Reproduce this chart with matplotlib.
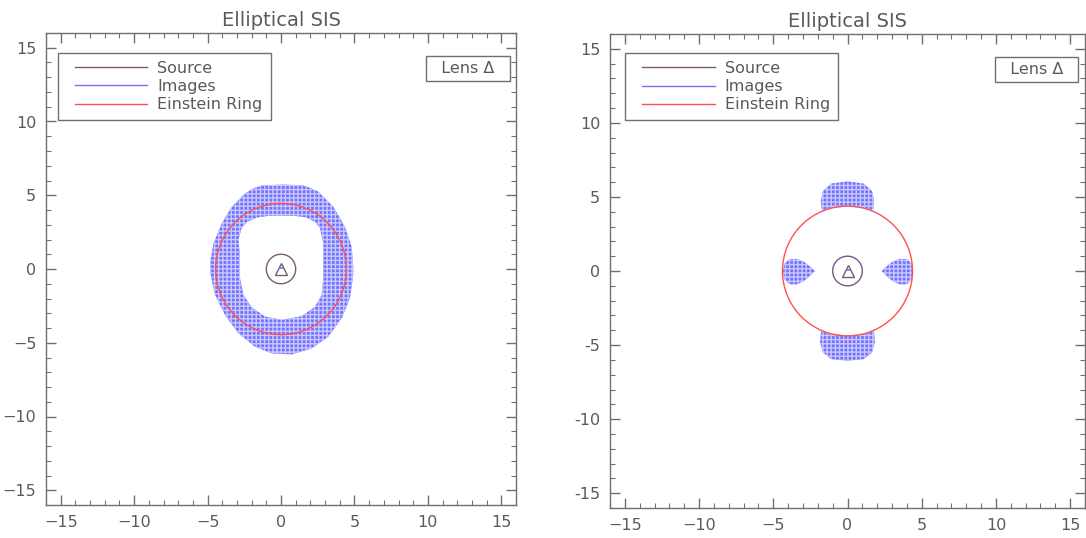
import numpy as np
import matplotlib
matplotlib.use('Agg')
import matplotlib.pyplot as plt
from matplotlib.path import Path
from matplotlib.patches import PathPatch, Circle
from matplotlib.lines import Line2D
from matplotlib.legend_handler import HandlerLine2D
from matplotlib.ticker import MultipleLocator, FuncFormatter

# --- data ---
source_xy = (0.0, 0.0)
source_r = 1.0
einstein_r_left = 4.45
einstein_r_right = 4.38

# left panel: ring-shaped image (outer and inner boundary)
ring_outer = [(0.2, 5.72), (-1.2, 5.68), (-1.85, 5.48), (-2.45, 5.13), (-3.35, 4.22),
              (-4.03, 3.1), (-4.6, 1.74), (-4.83, 0.39), (-4.83, -0.18), (-4.49, -1.76),
              (-3.81, -3.12), (-2.9, -4.36), (-1.77, -5.27), (-0.63, -5.72), (0.73, -5.79),
              (2.09, -5.38), (3.22, -4.59), (4.13, -3.34), (4.69, -1.99), (4.92, -0.41),
              (4.92, 0.16), (4.81, 1.51), (4.35, 2.87), (3.56, 4.22), (2.54, 5.24),
              (2.0, 5.5), (1.4, 5.68)]
ring_inner = [(0, 3.62), (0.95, 3.6), (1.7, 3.5), (2.3, 3.2), (2.65, 2.8), (2.88, 1.74),
              (2.88, 0.39), (2.88, -0.63), (2.77, -1.76), (2.31, -2.56), (1.41, -3.2),
              (0.05, -3.45), (-1.09, -3.22), (-2.0, -2.6), (-2.56, -1.76), (-2.79, -0.63),
              (-2.79, 0.83), (-2.9, 1.97), (-2.67, 2.8), (-2.3, 3.2), (-1.6, 3.5), (-0.86, 3.6)]

# right panel: four separate images
img_top = [(-1.72, 4.1), (-1.8, 4.7), (-1.65, 5.4), (-1.1, 5.9), (0, 6.05), (1.1, 5.9),
           (1.65, 5.4), (1.8, 4.7), (1.72, 4.1), (1.2, 4.25), (0, 4.35), (-1.2, 4.25)]
img_bottom = [(-1.78, -4.05), (-1.85, -4.8), (-1.65, -5.5), (-1.1, -5.95), (0, -6.05),
              (1.1, -5.95), (1.65, -5.5), (1.85, -4.8), (1.78, -4.05), (1.2, -4.25),
              (0, -4.35), (-1.2, -4.25)]
img_left = [(-4.35, 0.0), (-4.25, 0.5), (-3.9, 0.8), (-3.4, 0.82), (-2.9, 0.6), (-2.5, 0.28),
            (-2.2, 0.0), (-2.5, -0.3), (-2.9, -0.65), (-3.4, -0.9), (-3.9, -0.9), (-4.25, -0.55)]
img_right = [(4.4, 0.0), (4.35, 0.5), (4.0, 0.8), (3.5, 0.82), (3.0, 0.6), (2.6, 0.28),
             (2.3, 0.0), (2.6, -0.3), (3.0, -0.65), (3.5, -0.9), (4.0, -0.9), (4.35, -0.5)]

labels = ['Source', 'Images', 'Einstein Ring']
title = 'Elliptical SIS'
lens_label = '  Lens \u0394  '

GREY = '#5a5a5a'
SRC_C = '#7a5a7a'
IMG_C = '#7272ff'
RING_C = '#ff5050'
HATCH_C = '#c8c8ff'

plt.rcParams['font.family'] = 'DejaVu Sans'
plt.rcParams['hatch.linewidth'] = 1.0

fig = plt.figure(figsize=(10.86, 5.38), dpi=100)
W, H = 1086, 538
ax_l = fig.add_axes([46 / W, (H - 505) / H, 470 / W, 472 / H])
ax_r = fig.add_axes([610 / W, (H - 508) / H, 475 / W, 474 / H])


class PaddedLine(HandlerLine2D):
    # legend line that starts a bit right of the frame edge
    def create_artists(self, legend, orig_handle, xdescent, ydescent, width, height,
                       fontsize, trans):
        pad = 0.11 * width
        return super().create_artists(legend, orig_handle, xdescent - pad, ydescent,
                                      width - pad, height, fontsize, trans)


def image_patch(verts_list):
    codes = []
    allv = []
    for v in verts_list:
        codes += [Path.MOVETO] + [Path.LINETO] * (len(v) - 1) + [Path.CLOSEPOLY]
        allv += list(v) + [v[0]]
    return PathPatch(Path(allv, codes), facecolor=IMG_C, edgecolor=HATCH_C,
                     linewidth=0, hatch='++++', zorder=2)


def style(ax, hyphen_y=False):
    ax.set_xlim(-16, 16)
    ax.set_ylim(-16, 16)
    for s in ax.spines.values():
        s.set_color('#707070')
        s.set_linewidth(1.0)
    for a in (ax.xaxis, ax.yaxis):
        a.set_major_locator(MultipleLocator(5))
        a.set_minor_locator(MultipleLocator(1))
    ax.tick_params(which='both', direction='in', top=True, right=True, color='#707070',
                   labelcolor=GREY, labelsize=11.5)
    ax.tick_params(which='major', length=7, width=1.0, pad=7)
    ax.tick_params(which='minor', length=3.5, width=0.8)
    if hyphen_y:
        ax.yaxis.set_major_formatter(FuncFormatter(lambda v, p: '%d' % v))
    ax.set_title(title, color=GREY, fontsize=14, pad=5)


def common(ax, ring_r, leg_anchor):
    ax.add_patch(Circle(source_xy, source_r, fill=False, ec=SRC_C, lw=1.0, zorder=3))
    ax.add_patch(Circle((0, 0), ring_r, fill=False, ec=RING_C, lw=1.0, zorder=4))
    ax.plot([0], [0], marker='^', ms=8, mfc='none', mec='#666666', mew=1.0, zorder=5)
    ax.plot([0], [0.1], marker='_', ms=3, color=IMG_C, mew=1.2, zorder=6)
    handles = [Line2D([], [], color=SRC_C, lw=1.0),
               Line2D([], [], color=IMG_C, lw=1.0),
               Line2D([], [], color=RING_C, lw=1.0)]
    leg = ax.legend(handles, labels, loc='upper left', bbox_to_anchor=leg_anchor,
                    borderaxespad=0, fancybox=False, framealpha=1, edgecolor='#707070',
                    fontsize=11.5, handlelength=5.1, handletextpad=0.62, labelspacing=0.2,
                    borderpad=0.5, handler_map={Line2D: PaddedLine()})
    for t in leg.get_texts():
        t.set_color(GREY)
    leg.get_frame().set_linewidth(1.0)
    ax.text(0.898, 0.925, lens_label, transform=ax.transAxes, ha='center', va='center',
            fontsize=11.5, color=GREY,
            bbox=dict(boxstyle='square,pad=0.3', fc='white', ec='#707070', lw=1.0))


style(ax_l)
ax_l.add_patch(image_patch([ring_outer, ring_inner]))
common(ax_l, einstein_r_left, (0.0255, 0.958))

style(ax_r, hyphen_y=True)
ax_r.add_patch(image_patch([img_top, img_bottom, img_left, img_right]))
common(ax_r, einstein_r_right, (0.032, 0.96))

fig.savefig('out.png', dpi=100)
